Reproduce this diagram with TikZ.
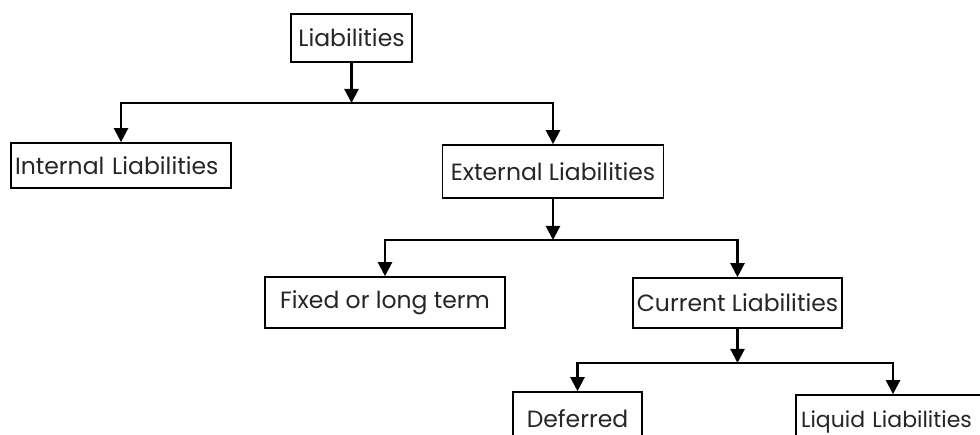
\documentclass[tikz,border=0pt]{standalone}
\usepackage{fontspec}
\setmainfont{Poppins}
\usetikzlibrary{arrows.meta}
\tikzset{
  box/.style={draw=black, line width=1.6pt, inner sep=0pt, font=\fontsize{23.5}{27}\selectfont, text=black!85},
  arr/.style={line width=2.2pt, -{Triangle[length=14pt,width=14pt]}}
}
\begin{document}
\begin{tikzpicture}[x=1pt,y=-1pt]
\useasboundingbox (0,0) rectangle (980,435);
\clip (0,0) rectangle (980,435);
\fill[white] (0,0) rectangle (980,435);
\node[box, minimum width=121pt, minimum height=48pt] (lia) at (351.5,38) {Liabilities};
\node[box, minimum width=220pt, minimum height=45pt, text width=212pt, align=left] (int) at (121,165.5) {Internal Liabilities};
\node[box, minimum width=221pt, minimum height=53pt] (ext) at (553,171.5) {External Liabilities};
\node[box, minimum width=240pt, minimum height=51pt] (fix) at (385,302.5) {Fixed or long term};
\node[box, minimum width=209pt, minimum height=50pt] (cur) at (737.5,303) {Current Liabilities};
\node[box, minimum width=129pt, minimum height=54pt] (def) at (577.5,419) {Deferred};
\node[box, minimum width=194pt, minimum height=54pt, text width=184pt, align=left, font=\fontsize{22}{26}\selectfont] (liq) at (893,422) {Liquid Liabilities};
\coordinate (j1) at (351.5,103);
\coordinate (j2) at (553,240);
\coordinate (j3) at (737.5,363);
\draw[arr] (lia.south) -- (j1);
\draw[arr] (j1) -| (int.north);
\draw[arr] (j1) -| (ext.north);
\draw[arr] (ext.south) -- (j2);
\draw[arr] (j2) -| (fix.north);
\draw[arr] (j2) -| (cur.north);
\draw[arr] (cur.south) -- (j3);
\draw[arr] (j3) -| (def.north);
\draw[arr] (j3) -| (liq.north);
\end{tikzpicture}
\end{document}
